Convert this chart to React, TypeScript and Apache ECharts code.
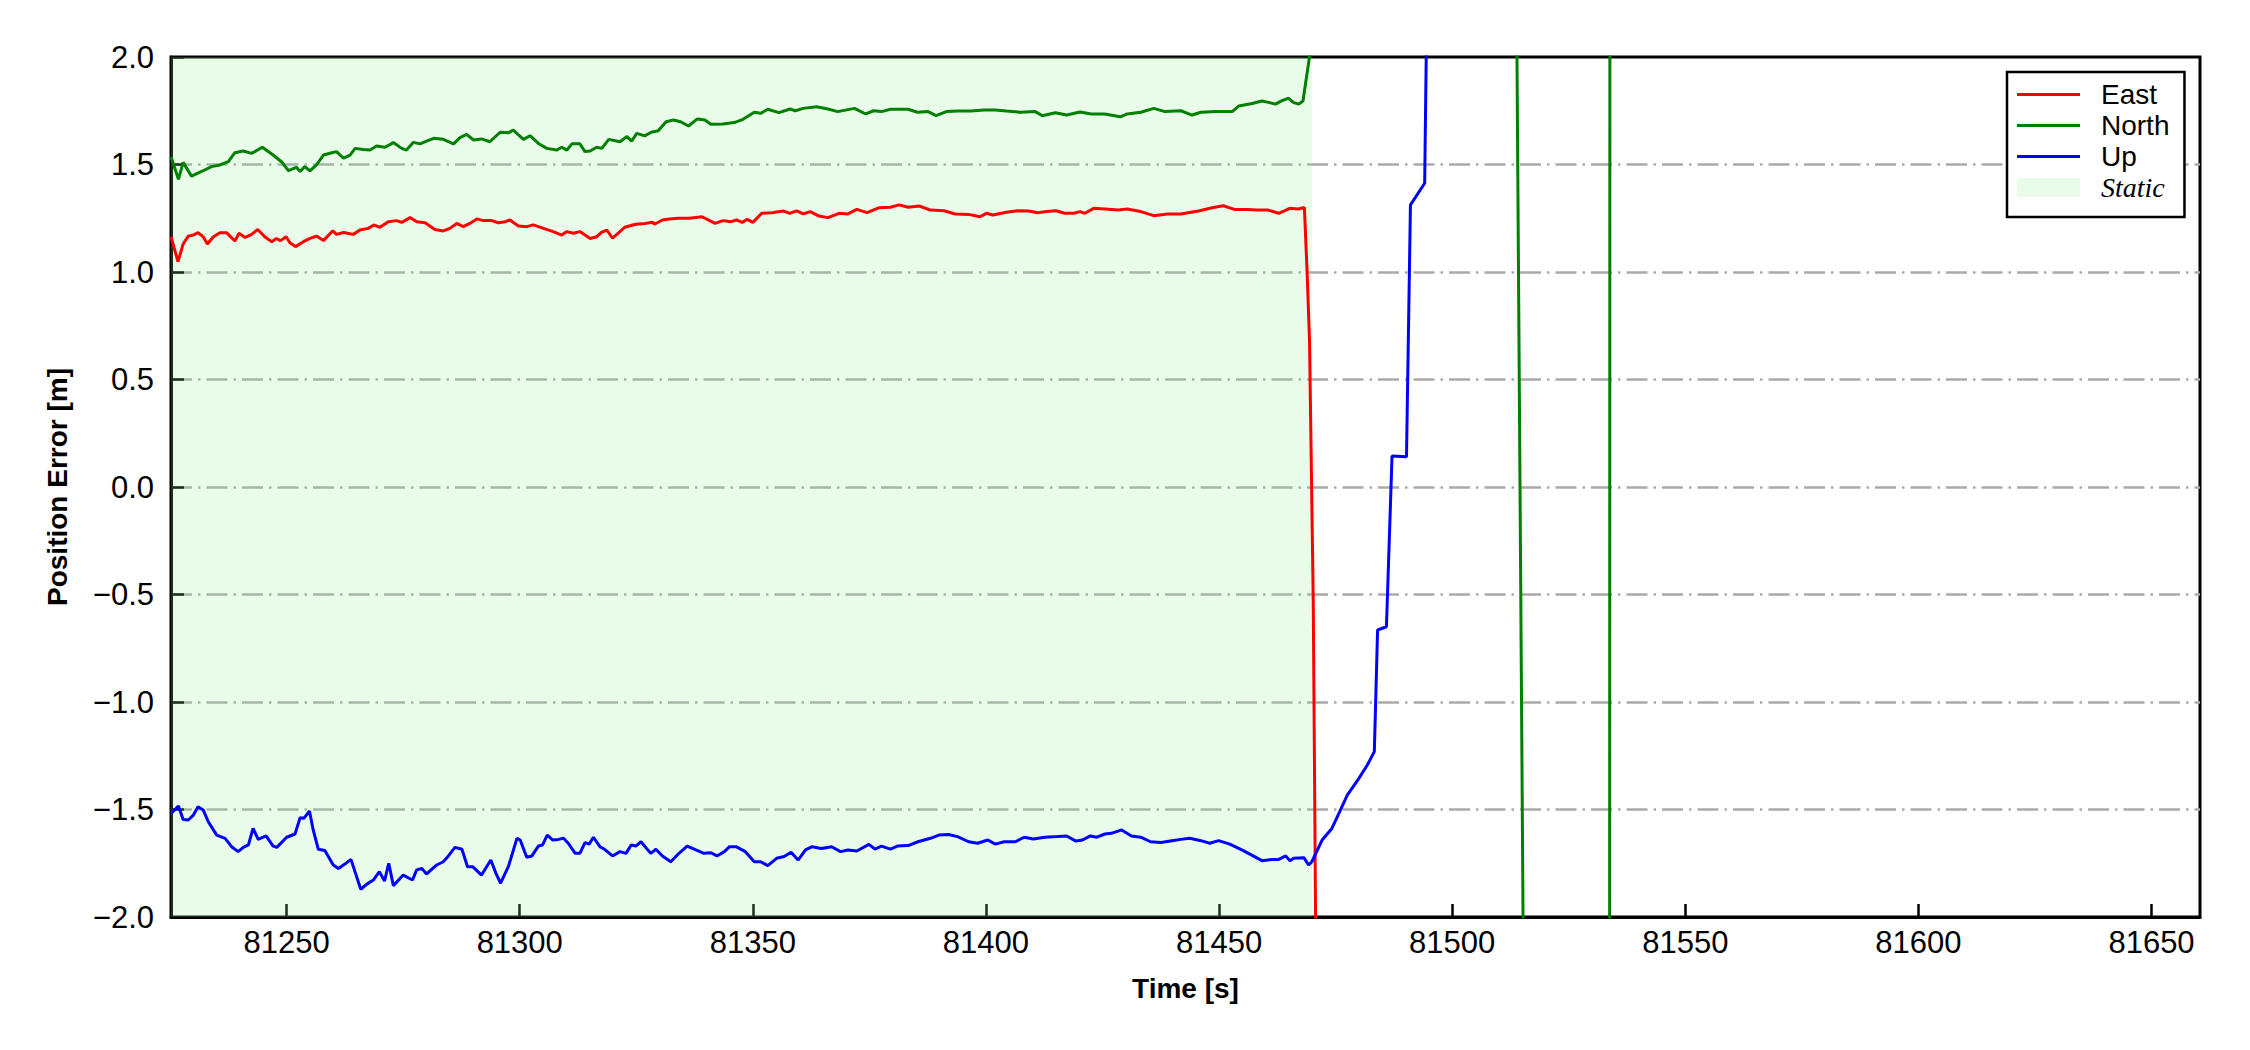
import React, { useEffect, useRef } from "react";
import * as echarts from "echarts";

// ---- data (time [s], error [m]) ----
const east: [number, number][] = [
  [81225.2, 1.164], [81226.7, 1.048], [81227.8, 1.13], [81228.9, 1.167], [81230.0, 1.172], [81231.0, 1.183],
  [81232.1, 1.164], [81233.0, 1.13], [81234.3, 1.164], [81235.7, 1.183], [81237.1, 1.183], [81238.9, 1.144],
  [81239.8, 1.18], [81241.1, 1.161], [81242.5, 1.175], [81243.8, 1.198], [81245.3, 1.164], [81246.8, 1.141],
  [81247.8, 1.156], [81248.7, 1.146], [81249.9, 1.164], [81250.7, 1.136], [81251.9, 1.118], [81253.6, 1.141],
  [81255.0, 1.156], [81256.4, 1.167], [81257.9, 1.146], [81259.9, 1.192], [81260.7, 1.175], [81262.2, 1.184],
  [81264.3, 1.175], [81265.7, 1.195], [81267.5, 1.203], [81268.7, 1.219], [81270.0, 1.208], [81271.8, 1.234],
  [81273.6, 1.239], [81274.7, 1.231], [81276.5, 1.253], [81277.9, 1.234], [81279.7, 1.229], [81281.8, 1.198],
  [81283.6, 1.191], [81285.0, 1.203], [81286.5, 1.226], [81287.9, 1.211], [81289.3, 1.226], [81290.8, 1.247],
  [81292.2, 1.239], [81294.0, 1.239], [81295.4, 1.229], [81296.9, 1.234], [81297.9, 1.242], [81299.7, 1.214],
  [81301.5, 1.211], [81302.9, 1.219], [81305.1, 1.203], [81307.2, 1.188], [81309.0, 1.172], [81310.1, 1.188],
  [81311.5, 1.18], [81312.9, 1.188], [81315.1, 1.156], [81316.5, 1.164], [81317.6, 1.185], [81318.7, 1.195],
  [81319.9, 1.157], [81322.5, 1.208], [81324.9, 1.222], [81326.8, 1.226], [81328.5, 1.231], [81328.9, 1.222],
  [81330.6, 1.242], [81332.1, 1.247], [81334.0, 1.25], [81336.4, 1.25], [81339.1, 1.257], [81341.9, 1.226],
  [81343.6, 1.239], [81345.3, 1.234], [81346.5, 1.242], [81347.7, 1.231], [81348.8, 1.245], [81350.0, 1.231],
  [81351.9, 1.273], [81354.1, 1.276], [81356.5, 1.284], [81357.9, 1.273], [81359.4, 1.284], [81360.8, 1.27],
  [81362.3, 1.281], [81364.2, 1.26], [81366.1, 1.253], [81368.5, 1.273], [81370.4, 1.27], [81372.3, 1.291],
  [81374.5, 1.276], [81377.1, 1.299], [81379.5, 1.301], [81381.4, 1.312], [81383.3, 1.301], [81385.7, 1.307],
  [81388.1, 1.288], [81391.0, 1.285], [81393.4, 1.27], [81396.3, 1.268], [81398.7, 1.257], [81400.1, 1.273],
  [81401.5, 1.265], [81404.4, 1.278], [81406.8, 1.285], [81409.2, 1.284], [81411.1, 1.276], [81413.0, 1.281],
  [81415.0, 1.285], [81416.9, 1.273], [81418.8, 1.273], [81420.2, 1.281], [81421.2, 1.273], [81423.1, 1.296],
  [81425.5, 1.293], [81428.4, 1.288], [81430.3, 1.293], [81433.2, 1.281], [81436.0, 1.262], [81438.9, 1.27],
  [81441.8, 1.27], [81445.6, 1.284], [81448.5, 1.299], [81450.9, 1.308], [81453.3, 1.291], [81456.1, 1.291],
  [81458.1, 1.288], [81460.5, 1.288], [81462.8, 1.273], [81465.2, 1.296], [81467.0, 1.293], [81468.3, 1.3],
  [81468.9, 0.99], [81469.4, 0.68], [81470.2, -0.53], [81470.7, -2.0], [81471.3, -5.5], [81660.4, -5.5],
];

const north: [number, number][] = [
  [81225.2, 1.536], [81226.8, 1.431], [81227.8, 1.51], [81229.6, 1.446], [81232.1, 1.471], [81233.9, 1.49],
  [81235.7, 1.498], [81237.5, 1.513], [81238.9, 1.555], [81240.7, 1.563], [81242.5, 1.552], [81244.8, 1.58],
  [81247.1, 1.544], [81248.9, 1.513], [81250.4, 1.471], [81252.1, 1.487], [81252.9, 1.467], [81253.9, 1.49],
  [81255.0, 1.47], [81256.4, 1.498], [81257.9, 1.544], [81259.3, 1.552], [81260.7, 1.56], [81262.2, 1.529],
  [81263.6, 1.544], [81264.7, 1.575], [81266.4, 1.57], [81267.9, 1.567], [81269.3, 1.586], [81271.1, 1.58],
  [81272.9, 1.602], [81274.7, 1.575], [81275.7, 1.567], [81277.2, 1.603], [81278.6, 1.596], [81281.5, 1.622],
  [81283.6, 1.617], [81285.8, 1.596], [81287.2, 1.625], [81288.6, 1.64], [81290.1, 1.614], [81291.8, 1.619],
  [81293.6, 1.606], [81295.8, 1.65], [81297.6, 1.648], [81298.6, 1.66], [81300.8, 1.617], [81302.2, 1.634],
  [81304.0, 1.598], [81305.8, 1.575], [81307.9, 1.567], [81309.0, 1.58], [81310.1, 1.567], [81311.2, 1.596],
  [81312.9, 1.596], [81314.0, 1.56], [81315.1, 1.563], [81316.5, 1.58], [81317.6, 1.575], [81319.1, 1.617],
  [81321.5, 1.606], [81323.0, 1.63], [81324.0, 1.609], [81325.1, 1.645], [81326.8, 1.633], [81328.2, 1.65],
  [81329.7, 1.657], [81331.4, 1.699], [81333.0, 1.707], [81334.5, 1.699], [81336.2, 1.679], [81338.1, 1.712],
  [81339.7, 1.707], [81341.0, 1.687], [81343.6, 1.688], [81346.0, 1.695], [81347.9, 1.71], [81350.3, 1.743],
  [81351.7, 1.738], [81353.2, 1.757], [81355.6, 1.741], [81358.0, 1.758], [81359.1, 1.75], [81360.8, 1.761],
  [81363.7, 1.769], [81366.1, 1.758], [81368.2, 1.746], [81371.8, 1.761], [81374.2, 1.735], [81375.9, 1.75],
  [81377.6, 1.746], [81379.5, 1.757], [81383.3, 1.757], [81385.3, 1.743], [81387.6, 1.746], [81389.3, 1.727],
  [81391.5, 1.746], [81393.9, 1.749], [81396.8, 1.749], [81399.6, 1.754], [81402.0, 1.754], [81404.4, 1.749],
  [81407.3, 1.743], [81410.6, 1.746], [81412.1, 1.727], [81414.9, 1.741], [81417.3, 1.73], [81420.2, 1.744],
  [81422.6, 1.735], [81425.5, 1.735], [81428.8, 1.722], [81430.3, 1.735], [81433.2, 1.743], [81436.0, 1.761],
  [81438.4, 1.746], [81441.8, 1.75], [81444.2, 1.73], [81446.1, 1.743], [81449.4, 1.746], [81452.8, 1.746],
  [81454.2, 1.772], [81457.1, 1.784], [81459.2, 1.795], [81460.6, 1.789], [81462.1, 1.781], [81463.5, 1.797],
  [81464.9, 1.808], [81466.0, 1.788], [81467.1, 1.781], [81468.0, 1.795], [81470.0, 2.09], [81471.0, 5.0],
  [81513.0, 4.77], [81516.0, -4.46], [81533.3, -40], [81534.3, 40], [81660.4, 40],
];

const up: [number, number][] = [
  [81225.2, -1.518], [81226.8, -1.484], [81227.8, -1.546], [81228.9, -1.549], [81230.0, -1.526], [81231.0, -1.487],
  [81232.1, -1.502], [81233.2, -1.557], [81235.0, -1.619], [81236.8, -1.634], [81238.2, -1.673], [81239.6, -1.696],
  [81240.7, -1.676], [81241.8, -1.665], [81242.8, -1.588], [81243.9, -1.639], [81245.6, -1.623], [81247.1, -1.67],
  [81247.9, -1.676], [81250.0, -1.629], [81251.8, -1.614], [81252.9, -1.538], [81253.7, -1.541], [81254.9, -1.507],
  [81255.7, -1.595], [81256.8, -1.685], [81258.2, -1.691], [81260.0, -1.758], [81261.1, -1.774], [81262.5, -1.754],
  [81263.8, -1.732], [81265.9, -1.871], [81267.2, -1.847], [81268.6, -1.828], [81269.9, -1.789], [81271.0, -1.833],
  [81271.9, -1.75], [81272.9, -1.854], [81275.0, -1.805], [81277.0, -1.828], [81277.9, -1.781], [81279.0, -1.774],
  [81280.0, -1.8], [81282.2, -1.758], [81283.6, -1.743], [81284.7, -1.716], [81286.1, -1.676], [81287.6, -1.685],
  [81288.8, -1.766], [81289.9, -1.766], [81291.8, -1.805], [81293.8, -1.735], [81294.9, -1.797], [81295.9, -1.843],
  [81297.6, -1.763], [81299.4, -1.634], [81300.1, -1.642], [81301.5, -1.722], [81302.6, -1.716], [81304.0, -1.67],
  [81304.9, -1.665], [81305.9, -1.619], [81307.1, -1.642], [81308.3, -1.639], [81309.4, -1.634], [81310.4, -1.657],
  [81311.9, -1.704], [81312.9, -1.704], [81314.0, -1.654], [81314.9, -1.661], [81315.8, -1.629], [81317.2, -1.673],
  [81318.2, -1.685], [81319.9, -1.716], [81321.5, -1.696], [81322.8, -1.704], [81323.9, -1.665], [81324.9, -1.67],
  [81326.0, -1.65], [81328.1, -1.704], [81329.2, -1.685], [81330.6, -1.716], [81332.4, -1.743], [81334.0, -1.707],
  [81335.9, -1.67], [81337.8, -1.688], [81339.5, -1.704], [81341.0, -1.701], [81342.3, -1.716], [81343.9, -1.696],
  [81345.0, -1.673], [81346.4, -1.673], [81348.4, -1.696], [81350.3, -1.743], [81351.7, -1.743], [81353.2, -1.761],
  [81355.1, -1.727], [81356.7, -1.719], [81358.2, -1.699], [81359.7, -1.735], [81361.3, -1.688], [81362.7, -1.673],
  [81364.7, -1.681], [81366.9, -1.673], [81368.8, -1.696], [81370.4, -1.688], [81372.3, -1.693], [81374.9, -1.662],
  [81376.2, -1.684], [81377.6, -1.67], [81379.5, -1.684], [81381.0, -1.67], [81383.3, -1.668], [81385.4, -1.65],
  [81388.1, -1.634], [81389.9, -1.619], [81392.0, -1.616], [81393.9, -1.626], [81396.3, -1.65], [81398.2, -1.657],
  [81400.4, -1.642], [81402.0, -1.661], [81403.9, -1.65], [81406.3, -1.65], [81408.2, -1.629], [81410.2, -1.637],
  [81412.6, -1.629], [81415.4, -1.626], [81417.3, -1.623], [81419.3, -1.647], [81420.7, -1.642], [81422.4, -1.623],
  [81423.8, -1.629], [81425.5, -1.614], [81426.9, -1.611], [81429.1, -1.595], [81431.2, -1.623], [81433.2, -1.629],
  [81435.3, -1.65], [81437.5, -1.653], [81439.9, -1.645], [81441.8, -1.639], [81443.7, -1.634], [81446.1, -1.645],
  [81448.0, -1.657], [81449.9, -1.645], [81452.3, -1.661], [81455.2, -1.691], [81457.6, -1.719], [81459.2, -1.738],
  [81461.4, -1.732], [81462.8, -1.732], [81464.3, -1.716], [81465.2, -1.738], [81466.0, -1.727], [81468.2, -1.724],
  [81469.2, -1.758], [81469.9, -1.743], [81472.1, -1.642], [81474.2, -1.588], [81475.7, -1.518], [81477.5, -1.433],
  [81480.0, -1.355], [81481.8, -1.293], [81483.3, -1.231], [81484.0, -0.665], [81485.9, -0.65], [81487.1, 0.144],
  [81490.2, 0.141], [81491.05, 1.312], [81494.1, 1.413], [81495.0, 3.0], [81660.4, 3.0],
];

const staticRange: [number, number] = [81225.2, 81470.0];
const xRange: [number, number] = [81225.2, 81660.4];
const yRange: [number, number] = [-2, 2];
const yStep = 0.5;
const xTickValues = [81250, 81300, 81350, 81400, 81450, 81500, 81550, 81600, 81650];
const seriesNames = ["East", "North", "Up"];
const seriesColors = ["#ff0000", "#008000", "#0000ff"];
const staticName = "Static";
const xName = "Time [s]";
const yName = "Position Error [m]";

const SANS = "'Liberation Sans', Arial, sans-serif";
const SERIF = "'Liberation Serif', 'Times New Roman', serif";
const STATIC_FILL = "rgba(144,238,144,0.2)";

export default function App() {
  const ref = useRef<HTMLDivElement>(null);
  useEffect(() => {
    if (!ref.current) return;
    const chart = echarts.init(ref.current, undefined, { renderer: "svg" });
    const lineIcon = "path://M0 0H63V3H0Z";
    const dataSets = [east, north, up];
    const option: any = {
      animation: false,
      backgroundColor: "#ffffff",
      textStyle: { fontFamily: SANS },
      grid: {
        left: 171, right: 50, top: 57, bottom: 133,
        show: true, borderColor: "#000", borderWidth: 3, backgroundColor: "transparent",
      },
      legend: {
        orient: "vertical",
        left: 2007, top: 72,
        padding: [7, 15, 14, 10],
        borderColor: "#000", borderWidth: 2.5, borderRadius: 0,
        backgroundColor: "#fff",
        itemWidth: 63, itemHeight: 19, itemGap: 0,
        selectedMode: false,
        textStyle: { fontSize: 28, color: "#000", fontFamily: SANS, lineHeight: 31, padding: [0, 0, 0, 16] },
        data: [
          ...seriesNames.map((n) => ({ name: n, icon: lineIcon })),
          { name: staticName, icon: "rect", itemStyle: { color: STATIC_FILL },
            textStyle: { fontFamily: SERIF, fontStyle: "italic", fontSize: 28 } },
        ],
      },
      xAxis: {
        type: "value",
        min: xRange[0], max: xRange[1],
        name: xName, nameLocation: "middle", nameGap: 57,
        nameTextStyle: { fontSize: 28, fontWeight: "bold", color: "#000", fontFamily: SANS },
        axisLine: { show: true, onZero: false, lineStyle: { color: "#000", width: 3 } },
        axisTick: { show: true, inside: true, length: 13, lineStyle: { color: "#000", width: 2.5 }, customValues: xTickValues },
        axisLabel: { fontSize: 31, color: "#000", margin: 10, customValues: xTickValues, formatter: (v: number) => String(v) },
        splitLine: { show: false },
      },
      yAxis: {
        type: "value",
        min: yRange[0], max: yRange[1], interval: yStep,
        name: yName, nameLocation: "middle", nameGap: 100,
        nameTextStyle: { fontSize: 28, fontWeight: "bold", color: "#000", fontFamily: SANS },
        axisLine: { show: true, onZero: false, lineStyle: { color: "#000", width: 3 } },
        axisTick: { show: true, inside: true, length: 13, lineStyle: { color: "#000", width: 2.5 } },
        axisLabel: {
          fontSize: 31, color: "#000", margin: 17,
          formatter: (v: number) => (v < 0 ? "\u2212" : "") + Math.abs(v).toFixed(1),
        },
        splitLine: {
          show: true, showMinLine: false, showMaxLine: false,
          lineStyle: { color: "#aaaaaa", width: 2.5, type: [21, 6, 2.5, 6] },
        },
      },
      series: [
        ...seriesNames.map((name, i) => ({
          name,
          type: "line",
          data: dataSets[i],
          symbol: "none",
          showSymbol: false,
          clip: true,
          z: 3,
          lineStyle: { color: seriesColors[i], width: 3 },
          itemStyle: { color: seriesColors[i] },
          ...(i === 0
            ? {
                markArea: {
                  silent: true,
                  itemStyle: { color: STATIC_FILL },
                  data: [[{ xAxis: staticRange[0] }, { xAxis: staticRange[1] }]],
                },
              }
            : {}),
        })),
        {
          name: staticName,
          type: "line",
          data: [],
          symbol: "none",
          itemStyle: { color: STATIC_FILL },
          lineStyle: { width: 0 },
        },
      ],
    };
    chart.setOption(option);
    return () => chart.dispose();
  }, []);
  return <div ref={ref} style={{ position: "fixed", left: 0, top: 0, width: 2250, height: 1050 }} />;
}
